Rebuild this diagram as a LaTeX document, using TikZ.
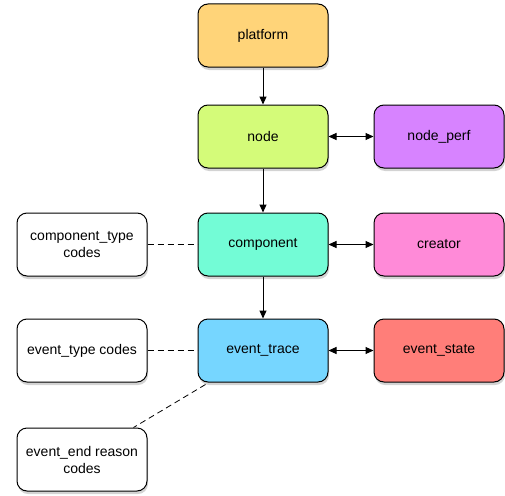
\documentclass[tikz,border=0pt]{standalone}
\usepackage{fontspec}
\setmainfont{Liberation Sans}
\usetikzlibrary{arrows.meta, shadows}
\usetikzlibrary{positioning}

\definecolor{cplatform}{HTML}{FFD479}
\definecolor{cnode}{HTML}{D4FB79}
\definecolor{cperf}{HTML}{D783FF}
\definecolor{ccomp}{HTML}{73FCD6}
\definecolor{ccreator}{HTML}{FF8AD8}
\definecolor{ctrace}{HTML}{76D6FF}
\definecolor{cstate}{HTML}{FF7E79}

\begin{document}
\begin{tikzpicture}[x=1pt,y=1pt,>={Triangle[length=8pt,width=7pt]},
    box/.style={draw,line width=1pt,rounded corners=10pt,minimum width=130pt,minimum height=63pt,
        align=center,font=\fontsize{14}{17}\selectfont,
        drop shadow={shadow xshift=1pt,shadow yshift=-3pt,opacity=0.35}},
    link/.style={line width=1pt},
    dashlink/.style={line width=0.8pt,dash pattern=on 6pt off 4pt}]
\useasboundingbox (0,0) rectangle (505,-495);
\node (platform) [box,fill=cplatform] at (263,-35.5) {platform};
\node (node) [box,fill=cnode,below=37pt of platform] {node};
\node (perf) [box,fill=cperf,right=45pt of node] {node\_perf};
\node (component) [box,fill=ccomp,below=44pt of node] {component};
\node (creator) [box,fill=ccreator,right=45pt of component] {creator};
\node (comptype) [box,fill=white,left=50pt of component] {component\_type\\codes};
\node (trace) [box,fill=ctrace,below=42pt of component] {event\_trace};
\node (state) [box,fill=cstate,right=45pt of trace] {event\_state};
\node (evtype) [box,fill=white,left=50pt of trace] {event\_type codes};
\node (endreason) [box,fill=white,below=45pt of evtype] {event\_end reason\\codes};

\draw [link,->] (platform) -- (node);
\draw [link,->] (node) -- (component);
\draw [link,->] (component) -- (trace);
\draw [link,<->] (node) -- (perf);
\draw [link,<->] (component) -- (creator);
\draw [link,<->] (trace) -- (state);
\draw [dashlink] (comptype) -- (component);
\draw [dashlink] (evtype) -- (trace);
\draw [dashlink] ([xshift=8pt,yshift=-2pt]trace.south west) -- ([xshift=-14pt]endreason.north east);
\end{tikzpicture}
\end{document}
